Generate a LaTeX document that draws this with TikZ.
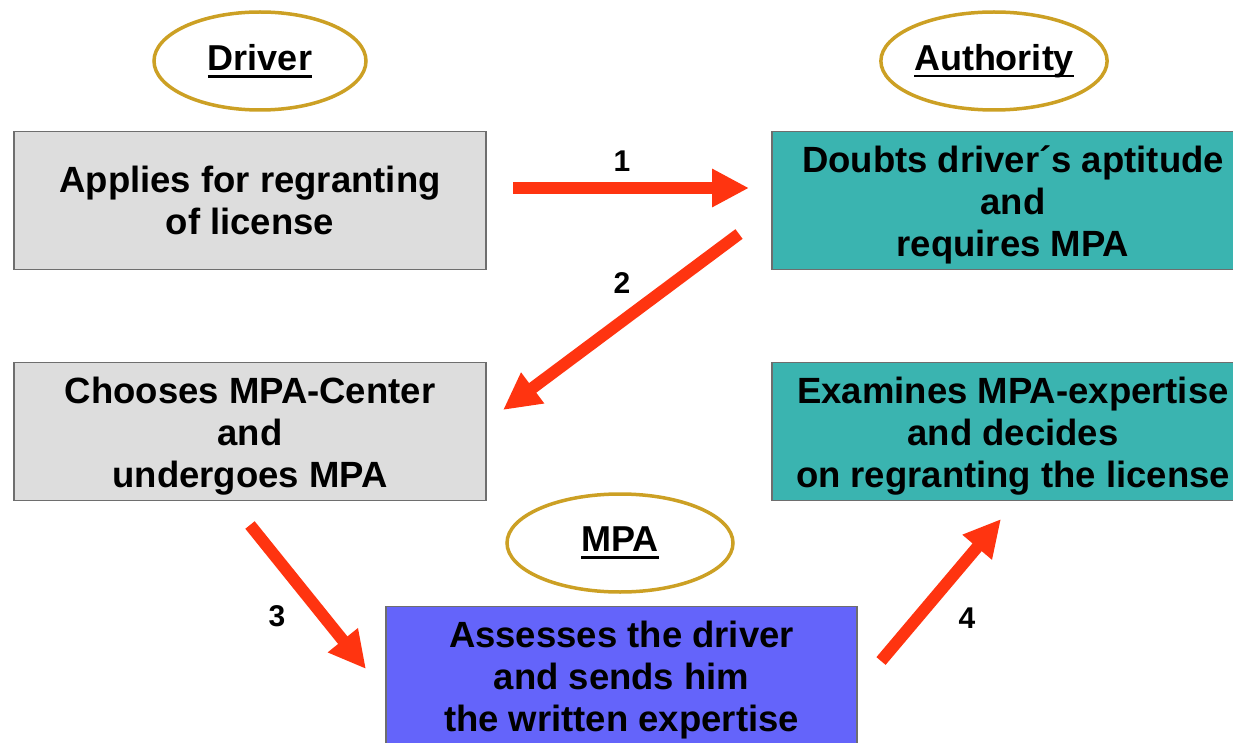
\documentclass[tikz,border=0pt]{standalone}
\usepackage{fontspec}
\setmainfont{Liberation Sans}
\usetikzlibrary{arrows.meta,shapes.geometric}

\definecolor{boxgrey}{RGB}{221,221,221}
\definecolor{edgegrey}{RGB}{110,110,110}
\definecolor{authteal}{RGB}{58,180,176}
\definecolor{mpablue}{RGB}{100,100,250}
\definecolor{gold}{RGB}{204,160,36}
\definecolor{flowred}{RGB}{255,52,16}

% text underlined with a heavy rule
\newcommand\heavyul[1]{\setbox0\hbox{#1}\rlap{\rule[-7pt]{\wd0}{2.6pt}}\box0}
% taller first line, lowering a three-line block a little
\newcommand\lowstrut{\rule{0pt}{36pt}}

\tikzset{
  actor/.style={ellipse, draw=gold, line width=3.5pt, fill=white,
    minimum width=#1, minimum height=98pt, inner sep=0pt,
    font=\fontsize{36}{42}\selectfont\bfseries},
  stepbox/.style={rectangle, draw=edgegrey, line width=1.6pt,
    minimum height=138pt, inner sep=0pt, align=center,
    font=\fontsize{36.5}{42}\selectfont\bfseries},
  drivbox/.style={stepbox, fill=boxgrey, minimum width=472pt},
  authbox/.style={stepbox, fill=authteal, minimum width=482pt},
  mpabox/.style={stepbox, fill=mpablue, minimum width=471pt},
  flow/.style={draw=flowred, line width=12pt,
    -{Triangle[length=37pt,width=36pt]}},
  num/.style={font=\fontsize{30}{34}\selectfont\bfseries}
}

\begin{document}
\begin{tikzpicture}[x=1pt,y=-1pt]
  \useasboundingbox (0,0) rectangle (1233,743);
  \clip (0,0) rectangle (1233,743);
  \fill[white] (0,0) rectangle (1233,743);

  % parties
  \node[actor=212pt] (driver) at (260,61) {\heavyul{Driver}};
  \node[actor=218pt] (authority) at (994,61) {\heavyul{Authority}};
  \node[actor=226pt] (mpa) at (620,543) {\heavyul{MPA}};

  % steps
  \node[drivbox] (apply) at (250,200.5) {Applies for regranting\\of license};
  \node[authbox] (doubt) at (1013,200.5) {\lowstrut Doubts driver\smash{´}s aptitude\\and\\requires MPA};
  \node[drivbox] (choose) at (250,431.5) {\lowstrut Chooses MPA-Center\\and\\undergoes MPA};
  \node[authbox] (decide) at (1013,431.5) {\lowstrut Examines MPA-expertise\\and decides\\on regranting the license};
  \node[mpabox] (assess) at (621.5,675.5) {\lowstrut Assesses the driver\\and sends him\\the written expertise};

  % arrow ends
  \coordinate (s1) at (513,188);  \coordinate (t1) at (749,188);
  \coordinate (s2) at (739,234);  \coordinate (t2) at (503,410);
  \coordinate (s3) at (250,525);  \coordinate (t3) at (366,669);
  \coordinate (s4) at (881,661);  \coordinate (t4) at (1001,519);

  \draw[flow] (s1) -- (t1);
  \draw[flow] (s2) -- (t2);
  \draw[flow] (s3) -- (t3);
  \draw[flow] (s4) -- (t4);

  \node[num] (n1) at (622,161) {1};
  \node[num] (n2) at (622,283) {2};
  \node[num] (n3) at (277,616) {3};
  \node[num] (n4) at (967,618) {4};
\end{tikzpicture}
\end{document}
